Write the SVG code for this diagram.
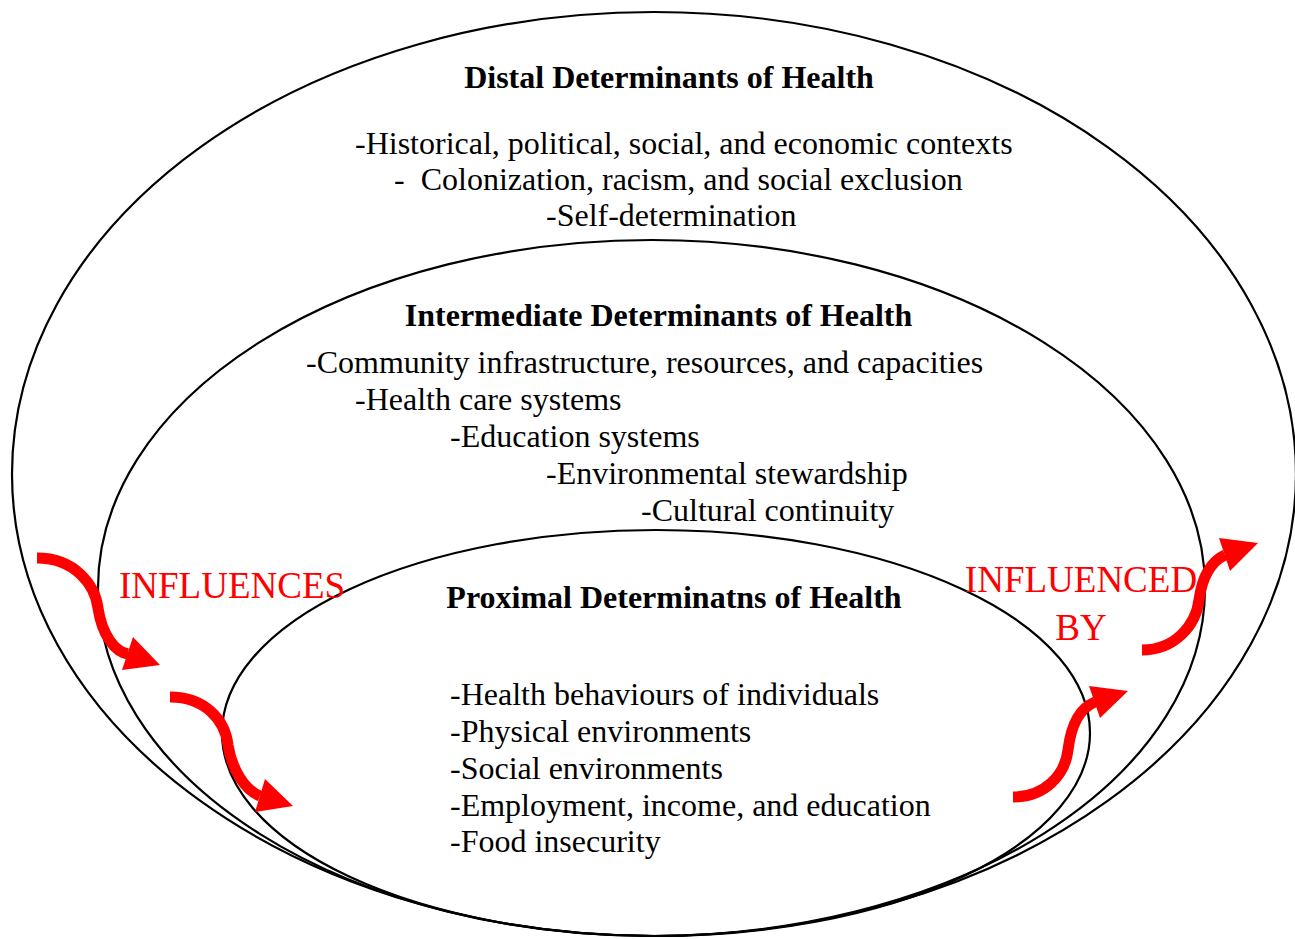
<svg xmlns="http://www.w3.org/2000/svg" width="1295" height="939" viewBox="0 0 1295 939">
  <style>
    .ring { fill: none; stroke: #000; stroke-width: 2.2; }
    .title { font-family: "Liberation Serif", "Times New Roman", serif; font-size: 32px; font-weight: bold; fill: #000; text-anchor: middle; }
    .item { font-family: "Liberation Serif", "Times New Roman", serif; font-size: 32px; fill: #000; white-space: pre; }
    .label { font-family: "Liberation Serif", "Times New Roman", serif; font-size: 37px; fill: #ff0000; }
    .shaft { fill: none; stroke: #ff0000; stroke-width: 11; }
    .head { fill: #ff0000; }
  </style>
  <rect width="1295" height="939" fill="#fff"/>

  <!-- Distal level: outermost ring -->
  <g id="distal">
    <ellipse class="ring" cx="654" cy="474" rx="642" ry="462"/>
    <text class="title" x="669" y="88">Distal Determinants of Health</text>
    <text class="item" x="355" y="154">-Historical, political, social, and economic contexts</text>
    <text class="item" x="394" y="190">-  Colonization, racism, and social exclusion</text>
    <text class="item" x="546" y="226">-Self-determination</text>
  </g>

  <!-- Intermediate level: middle ring -->
  <g id="intermediate">
    <ellipse class="ring" cx="651.5" cy="588" rx="553.5" ry="348"/>
    <text class="title" x="658.5" y="326">Intermediate Determinants of Health</text>
    <text class="item" x="306" y="373">-Community infrastructure, resources, and capacities</text>
    <text class="item" x="355" y="410">-Health care systems</text>
    <text class="item" x="450" y="447">-Education systems</text>
    <text class="item" x="546" y="484">-Environmental stewardship</text>
    <text class="item" x="641" y="521">-Cultural continuity</text>
  </g>

  <!-- Proximal level: inner ring -->
  <g id="proximal">
    <ellipse class="ring" cx="656" cy="733" rx="434" ry="203"/>
    <text class="title" x="674" y="608">Proximal Determinatns of Health</text>
    <text class="item" x="450" y="705">-Health behaviours of individuals</text>
    <text class="item" x="450" y="742">-Physical environments</text>
    <text class="item" x="450" y="779">-Social environments</text>
    <text class="item" x="450" y="816">-Employment, income, and education</text>
    <text class="item" x="450" y="852">-Food insecurity</text>
  </g>

  <!-- Red curved arrows showing the direction of influence -->
  <g id="connectors">
    <path class="shaft" d="M 37 558 C 75 558, 95 585, 98 608 C 102 635, 115 652, 128 654"/>
    <polygon class="head" points="133,637 160,665 122,670"/>
    <path class="shaft" d="M 170 697 C 205 697, 225 720, 228 745 C 232 770, 245 790, 260 796"/>
    <polygon class="head" points="265,779 293,806 255,812"/>
    <path class="shaft" d="M 1013 797 C 1045 797, 1065 775, 1068 750 C 1071 725, 1080 708, 1095 702"/>
    <polygon class="head" points="1089,686 1100,718 1128,691"/>
    <path class="shaft" d="M 1142 650 C 1175 650, 1196 625, 1199 600 C 1202 578, 1210 562, 1225 555"/>
    <polygon class="head" points="1219,538 1230,571 1258,543"/>
  </g>

  <g id="influences">
    <text class="label" x="119" y="598">INFLUENCES</text>
  </g>
  <g id="influenced-by">
    <text class="label" x="1081" y="592" text-anchor="middle">INFLUENCED</text>
    <text class="label" x="1081" y="640" text-anchor="middle">BY</text>
  </g>
</svg>
